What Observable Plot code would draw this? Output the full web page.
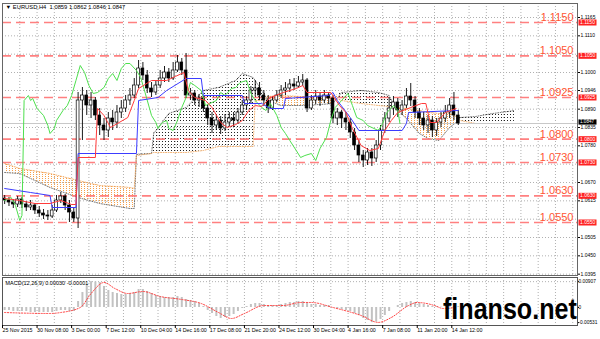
<!DOCTYPE html>
<html>
<head>
<meta charset="utf-8">
<script src="https://cdn.jsdelivr.net/npm/d3@7"></script>
<script src="https://cdn.jsdelivr.net/npm/@observablehq/plot@0.6"></script>
<style>
html,body{margin:0;padding:0;background:#fff;}
#wrap{position:relative;width:600px;height:339px;overflow:hidden;background:#fff;}
#main{position:absolute;left:0;top:0;}
#macd{position:absolute;left:0;top:277px;}
#wm{position:absolute;left:443px;top:295px;font:bold 29px/29px "Liberation Sans",Arial,sans-serif;color:#000;white-space:nowrap;transform-origin:left top;transform:scaleX(0.865);}
</style>
</head>
<body>
<div id="wrap"><div id="main"></div><div id="macd"></div><div id="wm">finanso.net</div></div>
<script>
// ---------- DATA ----------
const symbolName = "EURUSD,H4";
const lastQuote = ["1.0859", "1.0862", "1.0846", "1.0847"];
const currentPrice = 1.0847;
const macdTitle = "MACD(12,26,9) 0.00030 -0.00001";

const levels = [1.1150, 1.1050, 1.0925, 1.0800, 1.0730, 1.0630, 1.0550];
const levelLabels = ["1.1150", "1.1050", "1.0925", "1.0800", "1.0730", "1.0630", "1.0550"];
const priceTicks = [1.1165, 1.1110, 1.1055, 1.1000, 1.0946, 1.0890, 1.0835, 1.0780, 1.0725, 1.0670, 1.0615, 1.0560, 1.0505, 1.0450, 1.0395];
const hiddenTicks = [1.1055, 1.0725, 1.0560]; // covered by the level boxes in the original
const dateLabels = ["25 Nov 2015", "30 Nov 08:00", "3 Dec 00:00", "7 Dec 12:00", "10 Dec 04:00", "14 Dec 16:00", "17 Dec 08:00", "21 Dec 20:00", "24 Dec 12:00", "30 Dec 04:00", "4 Jan 16:00", "7 Jan 08:00", "11 Jan 20:00", "14 Jan 12:00"];
const macdTicks = [0.00907, 0, -0.00531];

// candles (one per two 4H bars)
const open = [1.0622,1.0616,1.0610,1.0604,1.0619,1.0604,1.0595,1.0601,1.0586,1.0577,1.0571,1.0568,1.0586,1.0616,1.0628,1.0601,1.0580,
1.0562,1.0916,1.0931,1.0901,1.0916,1.0871,1.0841,1.0826,1.0862,1.0850,1.0880,1.0892,1.0916,1.0931,1.0961,1.1012,1.0991,1.0952,1.0940,1.0961,1.0982,1.1000,1.0982,1.1006,1.1030,1.1006,1.0931,1.0937,1.0916,1.0922,1.0892,1.0862,1.0841,1.0856,1.0832,1.0850,1.0862,1.0856,1.0880,1.0901,1.0916,1.0946,1.0952,1.0931,1.0916,1.0892,1.0916,1.0931,1.0946,1.0952,1.0964,1.0958,1.0970,1.0976,1.0892,1.0916,1.0928,1.0916,1.0931,1.0922,1.0862,1.0880,1.0862,1.0850,1.0820,1.0781,1.0751,1.0736,1.0760,1.0742,1.0781,1.0826,1.0862,1.0892,1.0910,1.0886,1.0901,1.0928,1.0916,1.0880,1.0862,1.0841,1.0856,1.0826,1.0850,1.0862,1.0880,1.0901,1.0871];
const high = [1.0631,1.0625,1.0619,1.0628,1.0625,1.0613,1.0616,1.0607,1.0598,1.0589,1.0586,1.0601,1.0631,1.0640,1.0634,1.0616,1.0592,
1.0940,1.0955,1.0946,1.0940,1.0925,1.0892,1.0862,1.0880,1.0886,1.0901,1.0916,1.0931,1.0952,1.0982,1.1036,1.1030,1.1006,1.0970,1.0976,1.1006,1.1018,1.1012,1.1030,1.1051,1.1042,1.1057,1.0952,1.0946,1.0934,1.0928,1.0901,1.0880,1.0871,1.0868,1.0874,1.0880,1.0880,1.0892,1.0916,1.0928,1.0958,1.0976,1.0970,1.0946,1.0931,1.0928,1.0946,1.0961,1.0970,1.0979,1.0982,1.0988,1.0994,1.0982,1.0931,1.0946,1.0940,1.0946,1.0940,1.0931,1.0892,1.0886,1.0880,1.0862,1.0832,1.0796,1.0766,1.0772,1.0772,1.0796,1.0841,1.0880,1.0925,1.0928,1.0922,1.0916,1.0952,1.0967,1.0928,1.0892,1.0880,1.0871,1.0868,1.0862,1.0880,1.0901,1.0922,1.0940,1.0886];
const low = [1.0604,1.0598,1.0592,1.0595,1.0592,1.0583,1.0586,1.0574,1.0565,1.0559,1.0556,1.0562,1.0580,1.0607,1.0586,1.0550,1.0550,
1.0532,1.0796,1.0871,1.0862,1.0856,1.0811,1.0796,1.0805,1.0826,1.0832,1.0862,1.0880,1.0901,1.0922,1.0952,1.0976,1.0937,1.0925,1.0931,1.0952,1.0970,1.0970,1.0976,1.1000,1.0991,1.0922,1.0916,1.0901,1.0895,1.0880,1.0841,1.0817,1.0826,1.0814,1.0823,1.0838,1.0835,1.0844,1.0871,1.0886,1.0904,1.0928,1.0916,1.0898,1.0877,1.0886,1.0910,1.0922,1.0931,1.0940,1.0946,1.0952,1.0958,1.0880,1.0886,1.0904,1.0898,1.0907,1.0904,1.0847,1.0841,1.0832,1.0826,1.0802,1.0766,1.0730,1.0715,1.0721,1.0718,1.0730,1.0766,1.0817,1.0850,1.0871,1.0865,1.0871,1.0892,1.0898,1.0862,1.0841,1.0826,1.0817,1.0805,1.0808,1.0835,1.0850,1.0862,1.0856,1.0841];
const close = [1.0616,1.0610,1.0604,1.0619,1.0604,1.0595,1.0601,1.0586,1.0577,1.0571,1.0568,1.0586,1.0616,1.0628,1.0601,1.0580,1.0562,
1.0916,1.0931,1.0901,1.0916,1.0871,1.0841,1.0826,1.0862,1.0850,1.0880,1.0892,1.0916,1.0931,1.0961,1.1012,1.0991,1.0952,1.0940,1.0961,1.0982,1.1000,1.0982,1.1006,1.1030,1.1006,1.0931,1.0937,1.0916,1.0922,1.0892,1.0862,1.0841,1.0856,1.0832,1.0850,1.0862,1.0856,1.0880,1.0901,1.0916,1.0946,1.0952,1.0931,1.0916,1.0892,1.0916,1.0931,1.0946,1.0952,1.0964,1.0958,1.0970,1.0976,1.0892,1.0916,1.0928,1.0916,1.0931,1.0922,1.0862,1.0880,1.0862,1.0850,1.0820,1.0781,1.0751,1.0736,1.0760,1.0742,1.0781,1.0826,1.0862,1.0892,1.0910,1.0886,1.0901,1.0928,1.0916,1.0880,1.0862,1.0841,1.0856,1.0826,1.0850,1.0862,1.0880,1.0901,1.0871,1.0847];

// Ichimoku lines (bar index, price)
const tenkanBar = [0,7,14,21,26,31,33,34,42,43,46,49,53,57,60,62,68,75,79,83,85,88,93,96,100,103,107,110,113,116,119,123,129,135,138,140,151,155,158,161,165,169,173,176,179,182,188,193,195,197,200,204,209];
const tenkanVal = [1.0622,1.0616,1.0607,1.0607,1.0616,1.0604,1.0604,1.0745,1.0745,1.0892,1.0871,1.0835,1.0850,1.0865,1.0916,1.0952,1.0976,1.0976,1.0988,1.1000,1.0946,1.0925,1.0916,1.0895,1.0850,1.0835,1.0844,1.0856,1.0886,1.0901,1.0898,1.0925,1.0940,1.0952,1.0961,1.0940,1.0940,1.0901,1.0880,1.0832,1.0781,1.0766,1.0772,1.0826,1.0856,1.0880,1.0895,1.0907,1.0907,1.0850,1.0850,1.0880,1.0892];
const kijunBar = [0,12,21,22,33,34,61,62,71,75,84,91,92,110,111,119,123,129,130,150,152,154,160,164,184,186,187,210];
const kijunVal = [1.0652,1.0640,1.0631,1.0595,1.0595,1.0757,1.0757,1.0916,1.0925,1.0946,1.0982,1.0982,1.0931,1.0931,1.0907,1.0907,1.0892,1.0892,1.0922,1.0931,1.0940,1.0916,1.0865,1.0826,1.0826,1.0847,1.0880,1.0886];
const chikouBar = [0,3,5,7,8,9,11,12,13,15,18,20,21,23,24,27,29,31,33,35,37,39,41,43,46,48,50,52,54,56,58,61,63,65,68,70,71,73,75,76,78,80,82,84,86,88,91,93,95,98,100,102,105,107,109,112,114,116,119,121,123,126,128,130,132,135,137,139,142,144,146,149,151,153,156,158,159,161,163,166,168,170,173,175,177,180,182,183];
const chikouVal = [1.0616,1.0625,1.0601,1.0556,1.0571,1.0916,1.0931,1.0916,1.0922,1.0892,1.0871,1.0841,1.0817,1.0832,1.0856,1.0886,1.0901,1.0931,1.0976,1.1021,1.1000,1.0961,1.0937,1.0940,1.0955,1.0982,1.0997,1.0976,1.1012,1.1027,1.1027,1.1006,1.0985,1.0940,1.0871,1.0850,1.0832,1.0850,1.0856,1.0832,1.0826,1.0856,1.0895,1.0925,1.0970,1.0961,1.0946,1.0901,1.0907,1.0916,1.0940,1.0931,1.0952,1.0955,1.0970,1.0976,1.0937,1.0916,1.0895,1.0886,1.0907,1.0871,1.0835,1.0817,1.0796,1.0766,1.0745,1.0751,1.0757,1.0736,1.0772,1.0805,1.0856,1.0895,1.0916,1.0931,1.0937,1.0901,1.0865,1.0856,1.0841,1.0835,1.0826,1.0847,1.0880,1.0901,1.0886,1.0847];
const cloudBar = [0,7,21,34,44,58,60,61,68,69,76,84,92,99,107,110,115,116,119,122,128,137,146,152,156,165,173,178,181,186,192,196,201,206,209,211,218,226,233,236];
const spanA = [1.0700,1.0697,1.0655,1.0625,1.0607,1.0592,1.0592,1.0754,1.0757,1.0817,1.0877,1.0895,1.0946,1.0955,1.0976,1.0997,1.0985,1.0976,1.0946,1.0916,1.0901,1.0901,1.0904,1.0907,1.0940,1.0946,1.0940,1.0931,1.0892,1.0862,1.0817,1.0802,1.0796,1.0835,1.0850,1.0865,1.0868,1.0877,1.0883,1.0886];
const spanB = [1.0727,1.0712,1.0697,1.0676,1.0661,1.0655,1.0652,1.0751,1.0757,1.0760,1.0760,1.0760,1.0766,1.0778,1.0778,1.0778,1.0778,1.0916,1.0916,1.0928,1.0931,1.0928,1.0928,1.0925,1.0916,1.0907,1.0901,1.0898,1.0895,1.0892,1.0886,1.0880,1.0877,1.0877,1.0868,1.0856,1.0847,1.0847,1.0847,1.0847];

// MACD (one value per candle) and signal line
const macdHist = [-0.00105,-0.00105,-0.00140,-0.00140,-0.00140,-0.00140,-0.00176,-0.00176,-0.00176,-0.00176,-0.00176,-0.00176,-0.00140,-0.00105,-0.00105,-0.00140,-0.00140,
0.00211,0.00527,0.00807,0.00907,0.00895,0.00878,0.00737,0.00597,0.00527,0.00491,0.00456,0.00456,0.00491,0.00527,0.00632,0.00632,0.00562,0.00491,0.00421,0.00386,0.00351,0.00351,0.00351,0.00386,0.00351,0.00281,0.00246,0.00211,0.00140,0.00035,-0.00105,-0.00211,-0.00316,-0.00386,-0.00351,-0.00316,-0.00246,-0.00140,-0.00035,0.00035,0.00105,0.00140,0.00140,0.00105,0.00070,0.00070,0.00070,0.00105,0.00140,0.00176,0.00176,0.00211,0.00211,0.00140,0.00105,0.00105,0.00070,0.00070,0.00070,0,-0.00035,-0.00070,-0.00105,-0.00140,-0.00211,-0.00281,-0.00386,-0.00456,-0.00531,-0.00510,-0.00421,-0.00281,-0.00140,0,0.00070,0.00140,0.00176,0.00211,0.00176,0.00140,0.00105,0.00070,0.00035,0.00035,0.00010,0.00010,0.00030,0.00030,0.00030];
const signalBar = [0,21,26,35,40,46,51,57,64,72,82,91,99,105,111,120,129,137,142,152,165,173,179,187,191,199,203,209];
const signalVal = [-0.00176,-0.00211,-0.00176,0,0.00491,0.00878,0.00667,0.00491,0.00562,0.00386,0.00281,0.00140,-0.00176,-0.00386,-0.00211,0.00070,0.00070,0.00176,0.00176,0,-0.00281,-0.00524,-0.00351,0.00070,0.00176,0.00070,-0.00035,-0.00001];

// ---------- TABLES ----------
const candles = open.map((o, i) => ({b: 2 * i, open: o, high: high[i], low: low[i], close: close[i]}));
const bulls = candles.filter(d => d.close >= d.open);
const bears = candles.filter(d => d.close < d.open);
const pts = (bars, vals) => bars.map((b, i) => ({b, v: vals[i]}));
const tenkan = pts(tenkanBar, tenkanVal);
const kijun = pts(kijunBar, kijunVal);
const chikou = pts(chikouBar, chikouVal);
const cloud = cloudBar.map((b, i) => ({b, A: spanA[i], B: spanB[i]}));
const macd = macdHist.map((v, i) => ({b: 2 * i, v}));
const signal = pts(signalBar, signalVal);
const gridBars = d3.range(-1, 266, 8);
const dateBars = dateLabels.map((_, k) => -1 + 16 * k);
const dateByBar = new Map(dateBars.map((b, k) => [b, dateLabels[k]]));
const labelTicks = priceTicks.filter(t => !hiddenTicks.includes(t));

const FONT = "'Liberation Sans', Arial, sans-serif";
const xDomain = [-1, 265.2];
const boxSymbol = {draw(ctx) { ctx.rect(-9, -3, 18, 6); }};
const smallBox = {draw(ctx) { ctx.rect(-9, -2.6, 18, 5.2); }};
const gridStyle = {stroke: "#b0b0b0", strokeOpacity: 1, strokeDasharray: "1,2"};

// ---------- MAIN PANEL ----------
const main = Plot.plot({
  width: 600, height: 277,
  marginTop: 3, marginBottom: 2, marginLeft: 2, marginRight: 23,
  style: {fontFamily: FONT, fontSize: "5px", background: "transparent", color: "#000"},
  x: {domain: xDomain, axis: null},
  y: {domain: [1.0391, 1.1207], axis: null},
  marks: [
    Plot.gridX({ticks: gridBars, ...gridStyle}),
    Plot.gridY({ticks: priceTicks, ...gridStyle}),
    Plot.areaY(cloud, {x: "b", y1: "B", y2: d => Math.max(d.A, d.B), fill: "url(#dotsBlack)"}),
    Plot.areaY(cloud, {x: "b", y1: "A", y2: d => Math.max(d.A, d.B), fill: "url(#dotsOrange)"}),
    Plot.line(cloud, {x: "b", y: "A", stroke: "#555", strokeWidth: 0.8, strokeDasharray: "1,1.5"}),
    Plot.line(cloud, {x: "b", y: "B", stroke: "#f0a050", strokeWidth: 0.8, strokeDasharray: "1,1.5"}),
    Plot.ruleY([currentPrice], {stroke: "#c8c8c8", strokeWidth: 1}),
    Plot.ruleY(levels, {stroke: "#ff8080", strokeWidth: 1.6, strokeDasharray: "9,5"}),
    Plot.ruleX(candles, {x: "b", y1: "low", y2: "high", stroke: "#000", strokeWidth: 0.9}),
    Plot.rect(bulls, {x1: d => d.b - 0.65, x2: d => d.b + 0.65, y1: "open", y2: "close", fill: "#fff", stroke: "#000", strokeWidth: 0.7}),
    Plot.rect(bears, {x1: d => d.b - 0.65, x2: d => d.b + 0.65, y1: "open", y2: "close", fill: "#000", stroke: "#000", strokeWidth: 0.7}),
    Plot.line(chikou, {x: "b", y: "v", stroke: "#4ee04e", strokeWidth: 1}),
    Plot.line(kijun, {x: "b", y: "v", stroke: "#3c3cff", strokeWidth: 1}),
    Plot.line(tenkan, {x: "b", y: "v", stroke: "#ff3a3a", strokeWidth: 1}),
    Plot.text(levels, {y: d => d, text: (d, i) => levelLabels[i], frameAnchor: "right", dx: -4, dy: -5, textAnchor: "end", fontSize: 11, fill: "#ff5533"}),
    Plot.axisY({ticks: labelTicks, anchor: "right", tickSize: 2, tickPadding: 1, tickFormat: d3.format(".4f"), fontSize: 5, label: null}),
    Plot.dot(levels, {y: d => d, frameAnchor: "right", dx: 10, symbol: boxSymbol, fill: "#ff2222", stroke: "none"}),
    Plot.text(levels, {y: d => d, text: (d, i) => levelLabels[i], frameAnchor: "right", dx: 2.5, textAnchor: "start", fill: "#fff", fontSize: 5}),
    Plot.dot([currentPrice], {y: d => d, frameAnchor: "right", dx: 10, dy: -1.5, symbol: smallBox, fill: "#000", stroke: "none"}),
    Plot.text([currentPrice], {y: d => d, text: d => d.toFixed(4), frameAnchor: "right", dx: 2.5, dy: -1.5, textAnchor: "start", fill: "#fff", fontSize: 4.6}),
    Plot.frame({stroke: "#666", strokeWidth: 1}),
    Plot.text(["\u25BC " + symbolName + "  " + lastQuote.join(" ")], {frameAnchor: "top-left", dx: 3, dy: 1, lineAnchor: "top", fontSize: 5.8, fill: "#000", text: d => d})
  ]
});
const defs = d3.select(main).insert("defs", ":first-child");
const po = defs.append("pattern").attr("id", "dotsOrange").attr("width", 3).attr("height", 2).attr("patternUnits", "userSpaceOnUse");
po.append("rect").attr("width", 1).attr("height", 1).attr("fill", "#f7a04a");
const pb = defs.append("pattern").attr("id", "dotsBlack").attr("width", 3).attr("height", 3).attr("patternUnits", "userSpaceOnUse");
pb.append("rect").attr("width", 1).attr("height", 1).attr("fill", "#222");
document.getElementById("main").appendChild(main);

// ---------- MACD PANEL ----------
const macdPlot = Plot.plot({
  width: 600, height: 62,
  marginTop: 0, marginBottom: 14, marginLeft: 2, marginRight: 23,
  style: {fontFamily: FONT, fontSize: "5px", background: "transparent", color: "#000"},
  x: {domain: xDomain, axis: null},
  y: {domain: [-0.00632, 0.01053], axis: null},
  marks: [
    Plot.gridX({ticks: gridBars, ...gridStyle}),
    Plot.ruleY([macdTicks[0]], {...gridStyle}),
    Plot.ruleX(macd, {x: "b", y1: 0, y2: "v", stroke: "#c2c2c2", strokeWidth: 2}),
    Plot.line(signal, {x: "b", y: "v", stroke: "#ff4040", strokeWidth: 1, strokeDasharray: "1.2,1.6", curve: "monotone-x"}),
    Plot.frame({stroke: "#555", strokeWidth: 1}),
    Plot.axisX({ticks: dateBars, anchor: "bottom", tickSize: 3, tickPadding: 0, textAnchor: "start", tickFormat: d => dateByBar.get(d), fontSize: 5.3, label: null}),
    Plot.axisY({ticks: macdTicks, anchor: "right", tickSize: 1, tickPadding: 0, tickFormat: d => d === 0 ? "0" : d.toFixed(5), fontSize: 4.8, label: null}),
    Plot.text([macdTitle], {frameAnchor: "top-left", dx: 3, dy: 4, lineAnchor: "top", fontSize: 5.5, fill: "#000", text: d => d})
  ]
});
document.getElementById("macd").appendChild(macdPlot);
</script>
</body>
</html>
